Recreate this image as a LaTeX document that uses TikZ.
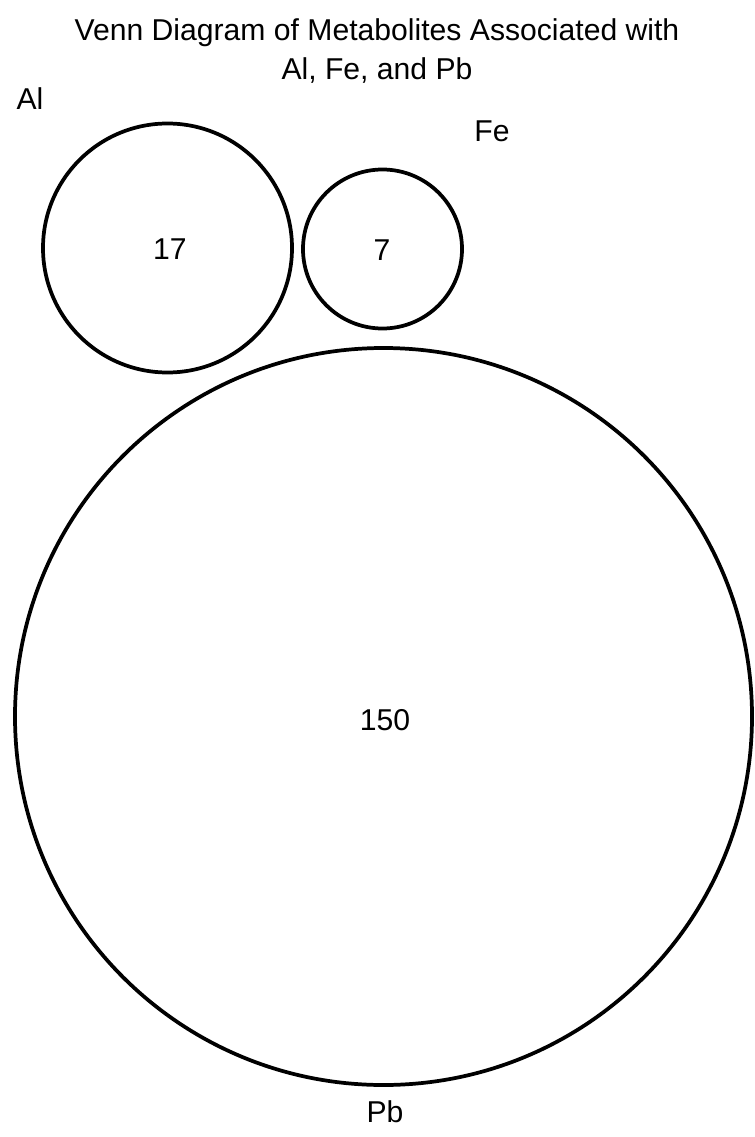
\documentclass[tikz,border=0pt]{standalone}
\usepackage{fontspec}
\setmainfont{Liberation Sans}
\begin{document}
\begin{tikzpicture}[x=0.75pt,y=-0.75pt,
  setc/.style={draw=black,line width=2.8pt,circle,inner sep=0pt},
  lbl/.style={font=\fontsize{22.6}{27}\selectfont,inner sep=0pt,anchor=center}]
\useasboundingbox (0,0) rectangle (754,1137);
\node[setc,minimum size=249*0.75pt] (al) at (167.5,248) {};
\node[setc,minimum size=159*0.75pt] (fe) at (382.5,249) {};
\node[setc,minimum size=737*0.75pt] (pb) at (383.5,716.5) {};
\node[lbl] (t1) at (377,33) {Venn Diagram of Metabolites Associated with};
\node[lbl] (t2) at (377,71) {Al, Fe, and Pb};
\node[lbl] (lal) at (30,99) {Al};
\node[lbl] (lfe) at (492,131) {Fe};
\node[lbl] (lpb) at (385,1112) {Pb};
\node[lbl] (nal) at (170,249) {17};
\node[lbl] (nfe) at (382,250) {7};
\node[lbl] (npb) at (385,720) {150};
\end{tikzpicture}
\end{document}
